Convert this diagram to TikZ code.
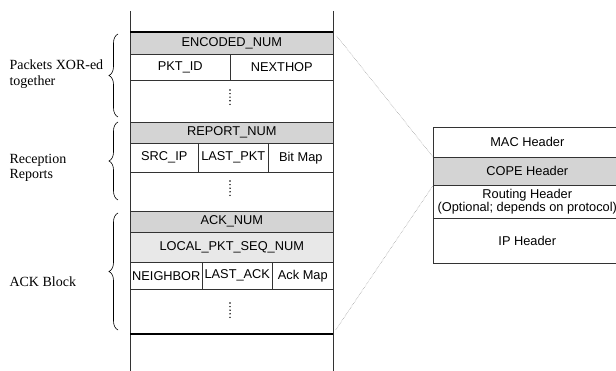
\documentclass[tikz,border=0pt]{standalone}
\usepackage{fontspec}
\setmainfont{Liberation Serif}
\setsansfont{Liberation Sans}
\usetikzlibrary{decorations.pathreplacing}

\begin{document}
\begin{tikzpicture}[x=1pt,y=-1pt,
  field/.style={draw=black!80, line width=0.6pt, anchor=north west, inner sep=0pt,
    font=\sffamily\fontsize{12.8}{13.5}\selectfont},
  hdr/.style={field, fill=black!17},
  lhdr/.style={field, fill=black!9},
  side/.style={font=\fontsize{14}{15.5}\selectfont, align=left, anchor=west},
  zoomline/.style={black!45, densely dotted, line width=0.5pt},
  more/.style={line width=1.6pt, line cap=round, dash pattern=on 0pt off 3.6pt},
  grp/.style={decorate, decoration={brace, amplitude=9pt}, line width=0.6pt}]
\clip (0,0) rectangle (616,371);
% the packet, cut open
\draw[line width=0.8pt, black!80] (130,11)--(130,371) (333,11)--(333,371);
\node[hdr, minimum width=203pt, minimum height=22pt] (encnum) at (130,32) {ENCODED\_NUM};
\node[field, minimum width=100pt, minimum height=26pt] (pktid) at (130,54) {PKT\_ID};
\node[field, minimum width=103pt, minimum height=26pt] (nexthop) at (230,54) {NEXTHOP};
\node[hdr, minimum width=203pt, minimum height=21pt] (repnum) at (130,122) {REPORT\_NUM};
\node[field, minimum width=68pt, minimum height=29pt] (srcip) at (130,143) {SRC\_IP};
\node[field, minimum width=70pt, minimum height=29pt] (lastpkt) at (198,143) {LAST\_PKT};
\node[field, minimum width=65pt, minimum height=29pt] (bitmap) at (268,143) {Bit Map};
\node[hdr, minimum width=203pt, minimum height=21pt] (acknum) at (130,211) {ACK\_NUM};
\node[lhdr, minimum width=203pt, minimum height=30pt] (localseq) at (130,232) {LOCAL\_PKT\_SEQ\_NUM};
\node[field, minimum width=72pt, minimum height=27pt] (neighbor) at (130,262) {NEIGHBOR};
\node[field, minimum width=70pt, minimum height=27pt] (lastack) at (202,262) {LAST\_ACK};
\node[field, minimum width=61pt, minimum height=27pt] (ackmap) at (272,262) {Ack Map};
% more entries of each kind
\foreach \y in {90, 181, 303}
  \draw[more] (230,\y) -- (230,\y+15);
\draw[line width=2pt] (130,32)--(333,32);
\draw[line width=2pt] (130,334)--(333,334);
\coordinate (stackend) at (333,334);

% groups
\draw[grp] (118,117) -- (118,34);
\draw[grp] (118,200) -- (118,122);
\draw[grp] (118,330) -- (118,213);
\node[side] (xorlbl) at (6,74) {Packets XOR-ed\\together};
\node[side] (replbl) at (6,168) {Reception\\Reports};
\node[side] (acklbl) at (6,282) {ACK Block};

% headers of the whole packet
\node[field, minimum width=188pt, minimum height=30pt] (mac) at (433,127) {MAC Header};
\node[hdr, minimum width=188pt, minimum height=28pt] (cope) at (433,157) {COPE Header};
\node[field, minimum width=188pt, minimum height=33pt, align=center] (routing) at (433,185)
  {Routing Header\\(Optional; depends on protocol)};
\node[field, minimum width=188pt, minimum height=45pt] (iphdr) at (433,218) {IP Header};
\draw[zoomline, shorten <=5pt] (encnum.north east) -- (cope.north west);
\draw[zoomline, shorten <=5pt] (stackend) -- (cope.south west);
\end{tikzpicture}
\end{document}
